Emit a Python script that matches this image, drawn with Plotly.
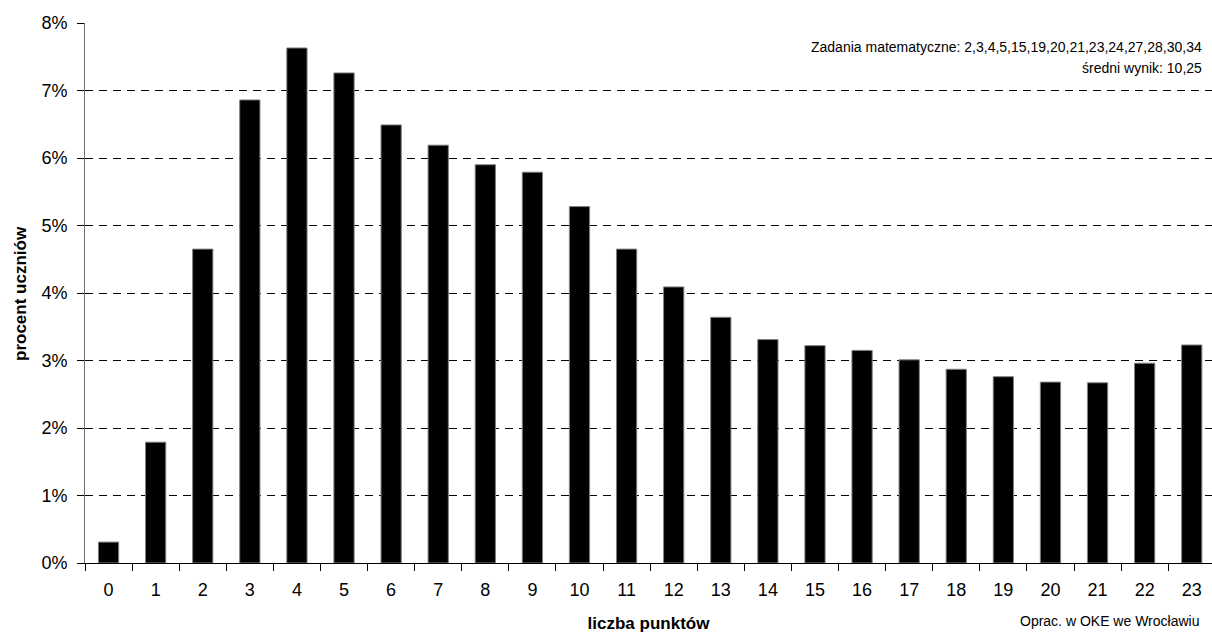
import plotly.graph_objects as go

# Rozkład wyników - zadania matematyczne
punkty = [str(i) for i in range(24)]
procent = [0.31, 1.79, 4.65, 6.86, 7.63, 7.26, 6.49, 6.19, 5.90, 5.79, 5.28, 4.65,
           4.09, 3.64, 3.31, 3.22, 3.15, 3.01, 2.87, 2.76, 2.68, 2.67, 2.96, 3.23]
procent = [p / 100 for p in procent]

info_zadania = "Zadania matematyczne: 2,3,4,5,15,19,20,21,23,24,27,28,30,34"
info_srednia = "średni wynik: 10,25"
info_autor = "Oprac. w OKE we Wrocławiu"

font = "Liberation Sans, Arial, sans-serif"

fig = go.Figure(
    go.Bar(
        x=punkty,
        y=procent,
        marker=dict(color="black", line=dict(color="#808080", width=1)),
        width=0.43,
    )
)

fig.update_layout(
    width=1212,
    height=637,
    margin=dict(l=85, r=0, t=23, b=74),
    plot_bgcolor="white",
    paper_bgcolor="white",
    showlegend=False,
    font=dict(family=font, size=18, color="black"),
    xaxis=dict(
        type="category",
        range=[-0.5, 23.43],
        tickson="boundaries",
        ticks="outside",
        ticklen=7,
        tickcolor="black",
        showline=True,
        linecolor="black",
        linewidth=1,
        showgrid=False,
        tickfont=dict(size=18),
        ticklabelstandoff=10,
        title=dict(text="<b>liczba punktów</b>", font=dict(size=17), standoff=18),
    ),
    yaxis=dict(
        range=[0, 0.08],
        dtick=0.01,
        tickformat=".0%",
        ticks="outside",
        ticklen=7,
        tickcolor="black",
        showline=True,
        linecolor="#707070",
        linewidth=1,
        showgrid=True,
        gridcolor="black",
        gridwidth=1,
        griddash="8px,6px",
        zeroline=False,
        tickfont=dict(size=18),
        ticklabelstandoff=6,
    ),
    annotations=[
        dict(text="<b>procent uczniów</b>", xref="paper", yref="paper", x=-0.0577, y=0.5,
             xanchor="center", yanchor="middle", textangle=-90, showarrow=False,
             font=dict(size=17)),
        dict(text=info_zadania, xref="paper", yref="paper", x=0.993, y=0.955,
             xanchor="right", yanchor="middle", showarrow=False, font=dict(size=14)),
        dict(text=info_srednia, xref="paper", yref="paper", x=0.993, y=0.916,
             xanchor="right", yanchor="middle", showarrow=False, font=dict(size=14)),
        dict(text=info_autor, xref="paper", yref="paper", x=0.99, y=-0.108,
             xanchor="right", yanchor="middle", showarrow=False, font=dict(size=14)),
    ],
)

fig.write_html("out.html", config={"displayModeBar": False},
               post_script="document.body.style.margin='0';")
